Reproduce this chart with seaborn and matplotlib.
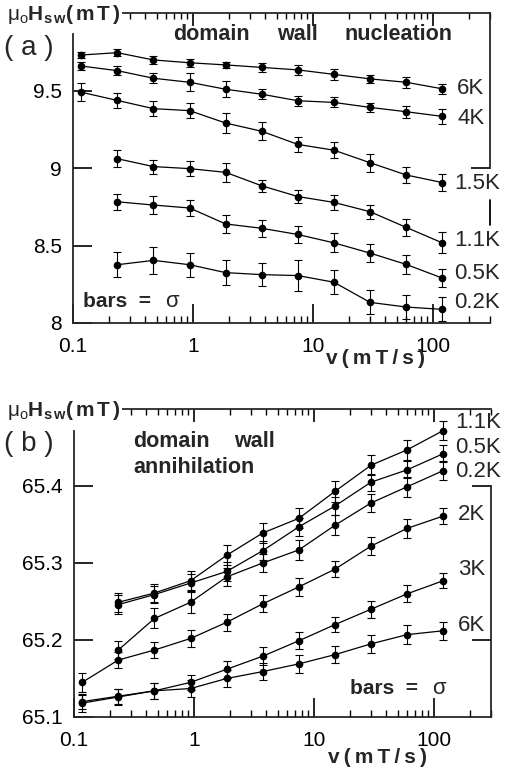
import pandas as pd
import seaborn as sns
import matplotlib.pyplot as plt
from matplotlib.ticker import LogLocator, NullFormatter

# ----------------------------------------
# Data
# ----------------------------------------
# field sweep rates (mT/s)
v_all = [0.117, 0.234, 0.469, 0.938, 1.875, 3.75, 7.5, 15, 30, 60, 120]
v_late = v_all[1:]

# (a) domain wall nucleation, switching field (mT) and sigma
nuc_6K = [9.729, 9.744, 9.697, 9.679, 9.665, 9.649, 9.633, 9.604, 9.575, 9.553, 9.511]
nuc_4K = [9.658, 9.628, 9.579, 9.553, 9.508, 9.476, 9.434, 9.423, 9.391, 9.363, 9.333]
nuc_1_5K = [9.489, 9.436, 9.383, 9.370, 9.290, 9.237, 9.152, 9.115, 9.034, 8.955, 8.906]
nuc_1_1K = [9.060, 9.009, 8.996, 8.972, 8.885, 8.816, 8.778, 8.718, 8.617, 8.517]
nuc_0_5K = [8.782, 8.761, 8.742, 8.639, 8.611, 8.571, 8.517, 8.451, 8.378, 8.290]
nuc_0_2K = [8.376, 8.404, 8.376, 8.325, 8.312, 8.306, 8.263, 8.133, 8.103, 8.088]

err_nuc_6K = [0.021, 0.021, 0.025, 0.025, 0.020, 0.029, 0.032, 0.037, 0.027, 0.037, 0.034]
err_nuc_4K = [0.024, 0.030, 0.032, 0.057, 0.053, 0.034, 0.032, 0.032, 0.031, 0.040, 0.049]
err_nuc_1_5K = [0.059, 0.051, 0.050, 0.050, 0.064, 0.057, 0.050, 0.050, 0.058, 0.053, 0.053]
err_nuc_1_1K = [0.056, 0.045, 0.046, 0.062, 0.040, 0.043, 0.049, 0.046, 0.053, 0.067]
err_nuc_0_5K = [0.053, 0.056, 0.054, 0.056, 0.056, 0.057, 0.062, 0.059, 0.061, 0.059]
err_nuc_0_2K = [0.080, 0.085, 0.076, 0.080, 0.075, 0.098, 0.077, 0.077, 0.080, 0.078]

nuc_labels = ['6K', '4K', '1.5K', '1.1K', '0.5K', '0.2K']
nuc_label_y = [9.513, 9.32, 8.90, 8.53, 8.32, 8.13]

# (b) domain wall annihilation
ann_1_1K = [65.249, 65.261, 65.277, 65.310, 65.339, 65.358, 65.393, 65.427, 65.447, 65.472]
ann_0_5K = [65.246, 65.259, 65.274, 65.289, 65.316, 65.347, 65.374, 65.405, 65.421, 65.442]
ann_0_2K = [65.187, 65.228, 65.249, 65.282, 65.300, 65.317, 65.349, 65.378, 65.399, 65.420]
ann_2K = [65.145, 65.174, 65.187, 65.202, 65.223, 65.247, 65.269, 65.292, 65.322, 65.345, 65.361]
ann_3K = [65.120, 65.127, 65.134, 65.145, 65.162, 65.179, 65.199, 65.220, 65.240, 65.260, 65.277]
ann_6K = [65.118, 65.126, 65.134, 65.137, 65.150, 65.159, 65.169, 65.181, 65.195, 65.207, 65.212]

err_ann_1_1K = [0.012, 0.012, 0.012, 0.013, 0.013, 0.013, 0.014, 0.013, 0.013, 0.012]
err_ann_0_5K = [0.012, 0.011, 0.012, 0.012, 0.012, 0.012, 0.012, 0.011, 0.011, 0.011]
err_ann_0_2K = [0.012, 0.013, 0.014, 0.012, 0.012, 0.013, 0.013, 0.012, 0.013, 0.012]
err_ann_2K = [0.012, 0.011, 0.011, 0.011, 0.011, 0.011, 0.012, 0.010, 0.012, 0.012, 0.010]
err_ann_3K = [0.010, 0.010, 0.010, 0.010, 0.011, 0.012, 0.011, 0.010, 0.011, 0.011, 0.010]
err_ann_6K = [0.011, 0.011, 0.010, 0.011, 0.011, 0.011, 0.012, 0.011, 0.012, 0.012, 0.012]

ann_labels = ['1.1K', '0.5K', '0.2K', '2K', '3K', '6K']
ann_label_y = [65.483, 65.450, 65.419, 65.363, 65.291, 65.219]

# ----------------------------------------
# Style
# ----------------------------------------
sns.set_theme(style='ticks')
plt.rcParams['font.family'] = ['Liberation Sans', 'DejaVu Sans']
plt.rcParams['mathtext.fontset'] = 'custom'
plt.rcParams['mathtext.rm'] = 'Liberation Sans'
plt.rcParams['mathtext.bf'] = 'Liberation Sans:bold'
plt.rcParams['mathtext.it'] = 'Liberation Sans:italic'
plt.rcParams['axes.linewidth'] = 1.3

W, H = 506, 774


def fx(px):
    return px / W


def fy(py):
    return 1 - py / H


def long_frame(series):
    rows = []
    for name, xs, ys, es in series:
        for x, y, e in zip(xs, ys, es):
            rows.append({'T': name, 'v': x, 'H': y, 'err': e})
    return pd.DataFrame(rows)


def only_spine(a, keep):
    for side, sp in a.spines.items():
        sp.set_visible(side == keep)


def draw_panel(ax, df, ylim, yticks, left_top, right_ticks, right_bounds):
    ax.set_xscale('log')
    sns.lineplot(data=df, x='v', y='H', hue='T', palette={t: 'black' for t in df['T'].unique()},
                 estimator=None, sort=False, marker='o', markersize=5.5, markeredgewidth=0,
                 linewidth=0.9, legend=False, ax=ax)
    for _, g in df.groupby('T'):
        ax.errorbar(g['v'], g['H'], yerr=g['err'], fmt='none', ecolor='black',
                    elinewidth=0.8, capsize=3, capthick=0.8)
    ax.set_xlim(0.1, 300)
    ax.set_ylim(*ylim)
    ax.set_xlabel('')
    ax.set_ylabel('')
    ax.set_xticks([0.1, 1, 10, 100], ['0.1', '1', '10', '100'])
    ax.xaxis.set_minor_locator(LogLocator(base=10, subs=range(2, 10), numticks=20))
    ax.xaxis.set_minor_formatter(NullFormatter())
    ax.set_yticks(yticks, [f'{t:g}' for t in yticks])
    ax.tick_params(axis='x', which='major', direction='in', length=14, width=1.2,
                   labelsize=15, pad=10, colors='black', top=False)
    ax.tick_params(axis='x', which='minor', direction='in', length=5, width=1,
                   colors='black', top=False)
    ax.tick_params(axis='y', which='both', direction='in', length=14, width=1.2,
                   labelsize=15, pad=8, colors='black', right=False)
    ax.spines['left'].set_bounds(ylim[0], left_top)
    ax.spines['right'].set_visible(False)
    ax.spines['top'].set_visible(False)

    # top frame with its own (shorter) ticks
    tx = ax.twiny()
    tx.set_xscale('log')
    tx.set_xlim(0.1, 300)
    tx.set_xticks([1, 10, 100])
    tx.xaxis.set_minor_locator(LogLocator(base=10, subs=range(2, 10), numticks=20))
    tx.xaxis.set_minor_formatter(NullFormatter())
    tx.tick_params(axis='x', which='major', direction='in', length=9, width=1.2,
                   labeltop=False, top=True, bottom=False, colors='black')
    tx.tick_params(axis='x', which='minor', direction='in', length=4, width=1,
                   top=True, bottom=False, colors='black')
    only_spine(tx, 'top')
    tx.spines['top'].set_bounds(0.25, 300)

    # right frame, broken around the curve labels
    ry = ax.twinx()
    ry.set_ylim(*ylim)
    ry.set_yticks(right_ticks)
    ry.tick_params(axis='y', direction='in', length=14, width=1.2, labelright=False,
                   right=True, left=False, colors='black')
    ry.yaxis.set_minor_locator(plt.NullLocator())
    only_spine(ry, 'right')
    ry.spines['right'].set_bounds(*right_bounds)
    return tx, ry


nuc = long_frame([
    ('6K', v_all, nuc_6K, err_nuc_6K),
    ('4K', v_all, nuc_4K, err_nuc_4K),
    ('1.5K', v_all, nuc_1_5K, err_nuc_1_5K),
    ('1.1K', v_late, nuc_1_1K, err_nuc_1_1K),
    ('0.5K', v_late, nuc_0_5K, err_nuc_0_5K),
    ('0.2K', v_late, nuc_0_2K, err_nuc_0_2K),
])
ann = long_frame([
    ('1.1K', v_late, ann_1_1K, err_ann_1_1K),
    ('0.5K', v_late, ann_0_5K, err_ann_0_5K),
    ('0.2K', v_late, ann_0_2K, err_ann_0_2K),
    ('2K', v_all, ann_2K, err_ann_2K),
    ('3K', v_all, ann_3K, err_ann_3K),
    ('6K', v_all, ann_6K, err_ann_6K),
])

fig = plt.figure(figsize=(W / 100, H / 100), dpi=100)
ax_a = fig.add_axes([fx(73), fy(323), fx(490) - fx(73), fy(13) - fy(323)])
ax_b = fig.add_axes([fx(74), fy(717), fx(491) - fx(74), fy(409) - fy(717)])

draw_panel(ax_a, nuc, (8, 10), [8, 8.5, 9, 9.5], 9.865, [9.0], (9.0, 10))
draw_panel(ax_b, ann, (65.1, 65.5), [65.1, 65.2, 65.3, 65.4], 65.472, [65.2, 65.4], (65.1, 65.4))

# short piece of the right frame between the 1.5K and 1.1K labels
ax_a.axvline(300, ymin=0.316, ymax=0.397, color='black', lw=1.3, clip_on=False)

# curve labels
for lab, y in zip(nuc_labels, nuc_label_y):
    ax_a.text(150 if '.' in lab else 160, y, lab, fontsize=16, va='center', ha='left')
for lab, y in zip(ann_labels, ann_label_y):
    ax_b.text(150 if '.' in lab else 160, y, lab, fontsize=16, va='center', ha='left')

# axis titles and annotations
ylab = r'$\mathrm{μ}_{\mathrm{o}}\mathbf{H}_{\mathbf{s\,w}}\mathbf{(\,m\,T\,)}$'
xlab = 'v\u2009(\u2009m\u2009T\u2009/\u2009s\u2009)'
for yl in (14, 410):
    fig.text(fx(7), fy(yl), ylab, fontsize=15, va='center', ha='left',
             bbox=dict(facecolor='white', edgecolor='none', pad=1.5), zorder=5)
fig.text(fx(4), fy(48), '( a )', fontsize=20, va='center', ha='left')
fig.text(fx(4), fy(444), '( b )', fontsize=20, va='center', ha='left')
fig.text(fx(375), fy(364), xlab, fontsize=15, fontweight='bold', ha='center', va='baseline')
fig.text(fx(378), fy(763), xlab, fontsize=15, fontweight='bold', ha='center', va='baseline')

fig.text(fx(173), fy(40), 'domain', fontsize=15.5, fontweight='bold', va='baseline')
fig.text(fx(277), fy(40), 'wall', fontsize=15.5, fontweight='bold', va='baseline')
fig.text(fx(345), fy(40), 'nucleation', fontsize=15.5, fontweight='bold', va='baseline')
fig.text(fx(133), fy(447), 'domain', fontsize=15.5, fontweight='bold', va='baseline')
fig.text(fx(234), fy(447), 'wall', fontsize=15.5, fontweight='bold', va='baseline')
fig.text(fx(133), fy(473), 'annihilation', fontsize=15.5, fontweight='bold', va='baseline')

# "bars = sigma" note, sigma set upright
for bx, by in ((83, 307), (350, 694)):
    fig.text(fx(bx), fy(by), 'bars  =', fontsize=15, fontweight='bold', va='baseline')
    fig.text(fx(bx + 82), fy(by), 'σ', fontsize=16, va='baseline')

fig.savefig('out.png', dpi=100)
